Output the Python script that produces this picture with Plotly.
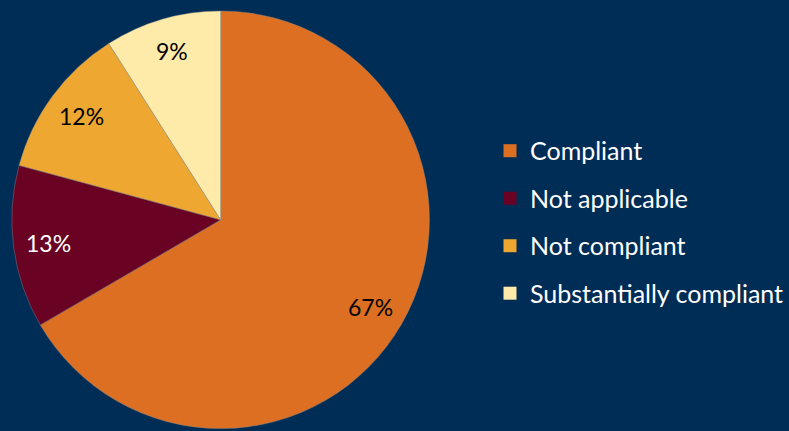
import math
import plotly.graph_objects as go

labels = ["Compliant", "Not applicable", "Not compliant", "Substantially compliant"]
values = [66.6, 12.6, 11.8, 9.0]
colors = ["#DD6F23", "#6A0224", "#EEA832", "#FFEBA9"]
text_colors = ["#000000", "#FFFFFF", "#000000", "#000000"]

BG = "#002D56"
FONT = "Lato"
W, H = 789, 431
PIE_X = [0.0152, 0.5506]
PIE_Y = [0.0, 0.98]
LABEL_R = 0.83  # label distance as a fraction of the radius

fig = go.Figure()
fig.add_trace(go.Pie(
    labels=labels,
    values=values,
    sort=False,
    direction="clockwise",
    rotation=0,
    marker=dict(colors=colors, line=dict(color="rgba(140,140,140,0.7)", width=0.6)),
    textinfo="none",
    showlegend=False,
    domain=dict(x=PIE_X, y=PIE_Y),
    hoverinfo="label+percent",
))

# percentage labels placed along each slice's middle angle
total = sum(values)
cx = (PIE_X[0] + PIE_X[1]) / 2
cy = (PIE_Y[0] + PIE_Y[1]) / 2
r_px = min((PIE_X[1] - PIE_X[0]) * W, (PIE_Y[1] - PIE_Y[0]) * H) / 2
acc = 0.0
for v, tc in zip(values, text_colors):
    mid = (acc + v / 2) / total * 2 * math.pi
    acc += v
    x = cx + LABEL_R * r_px * math.sin(mid) / W
    y = cy + LABEL_R * r_px * math.cos(mid) / H
    fig.add_annotation(
        x=x, y=y, xref="paper", yref="paper", showarrow=False,
        text=f"{round(v / total * 100)}%",
        font=dict(size=23, color=tc, family=FONT),
        xanchor="center", yanchor="middle",
    )

# legend entries (one per category) so that the spacing between them can be set
for lab, col in zip(labels, colors):
    fig.add_trace(go.Scatter(
        x=[None], y=[None], mode="markers", name=lab,
        marker=dict(symbol="square", size=13, color=col),
        legendgroup=lab, showlegend=True, hoverinfo="skip",
    ))

fig.update_layout(
    width=W, height=H,
    margin=dict(l=0, r=0, t=0, b=0),
    paper_bgcolor=BG, plot_bgcolor=BG,
    font=dict(family=FONT, color="#FFFFFF", size=25),
    xaxis=dict(visible=False, domain=[0.6, 1.0]),
    yaxis=dict(visible=False),
    legend=dict(
        x=0.6285, y=0.485, xanchor="left", yanchor="middle",
        font=dict(size=25, color="#FFFFFF", family=FONT),
        tracegroupgap=12, bgcolor="rgba(0,0,0,0)",
        itemclick=False, itemdoubleclick=False,
    ),
)

fig.write_html(
    "out.html",
    config={"displayModeBar": False},
    post_script="document.body.style.margin='0';document.body.style.background='#002D56';",
)
